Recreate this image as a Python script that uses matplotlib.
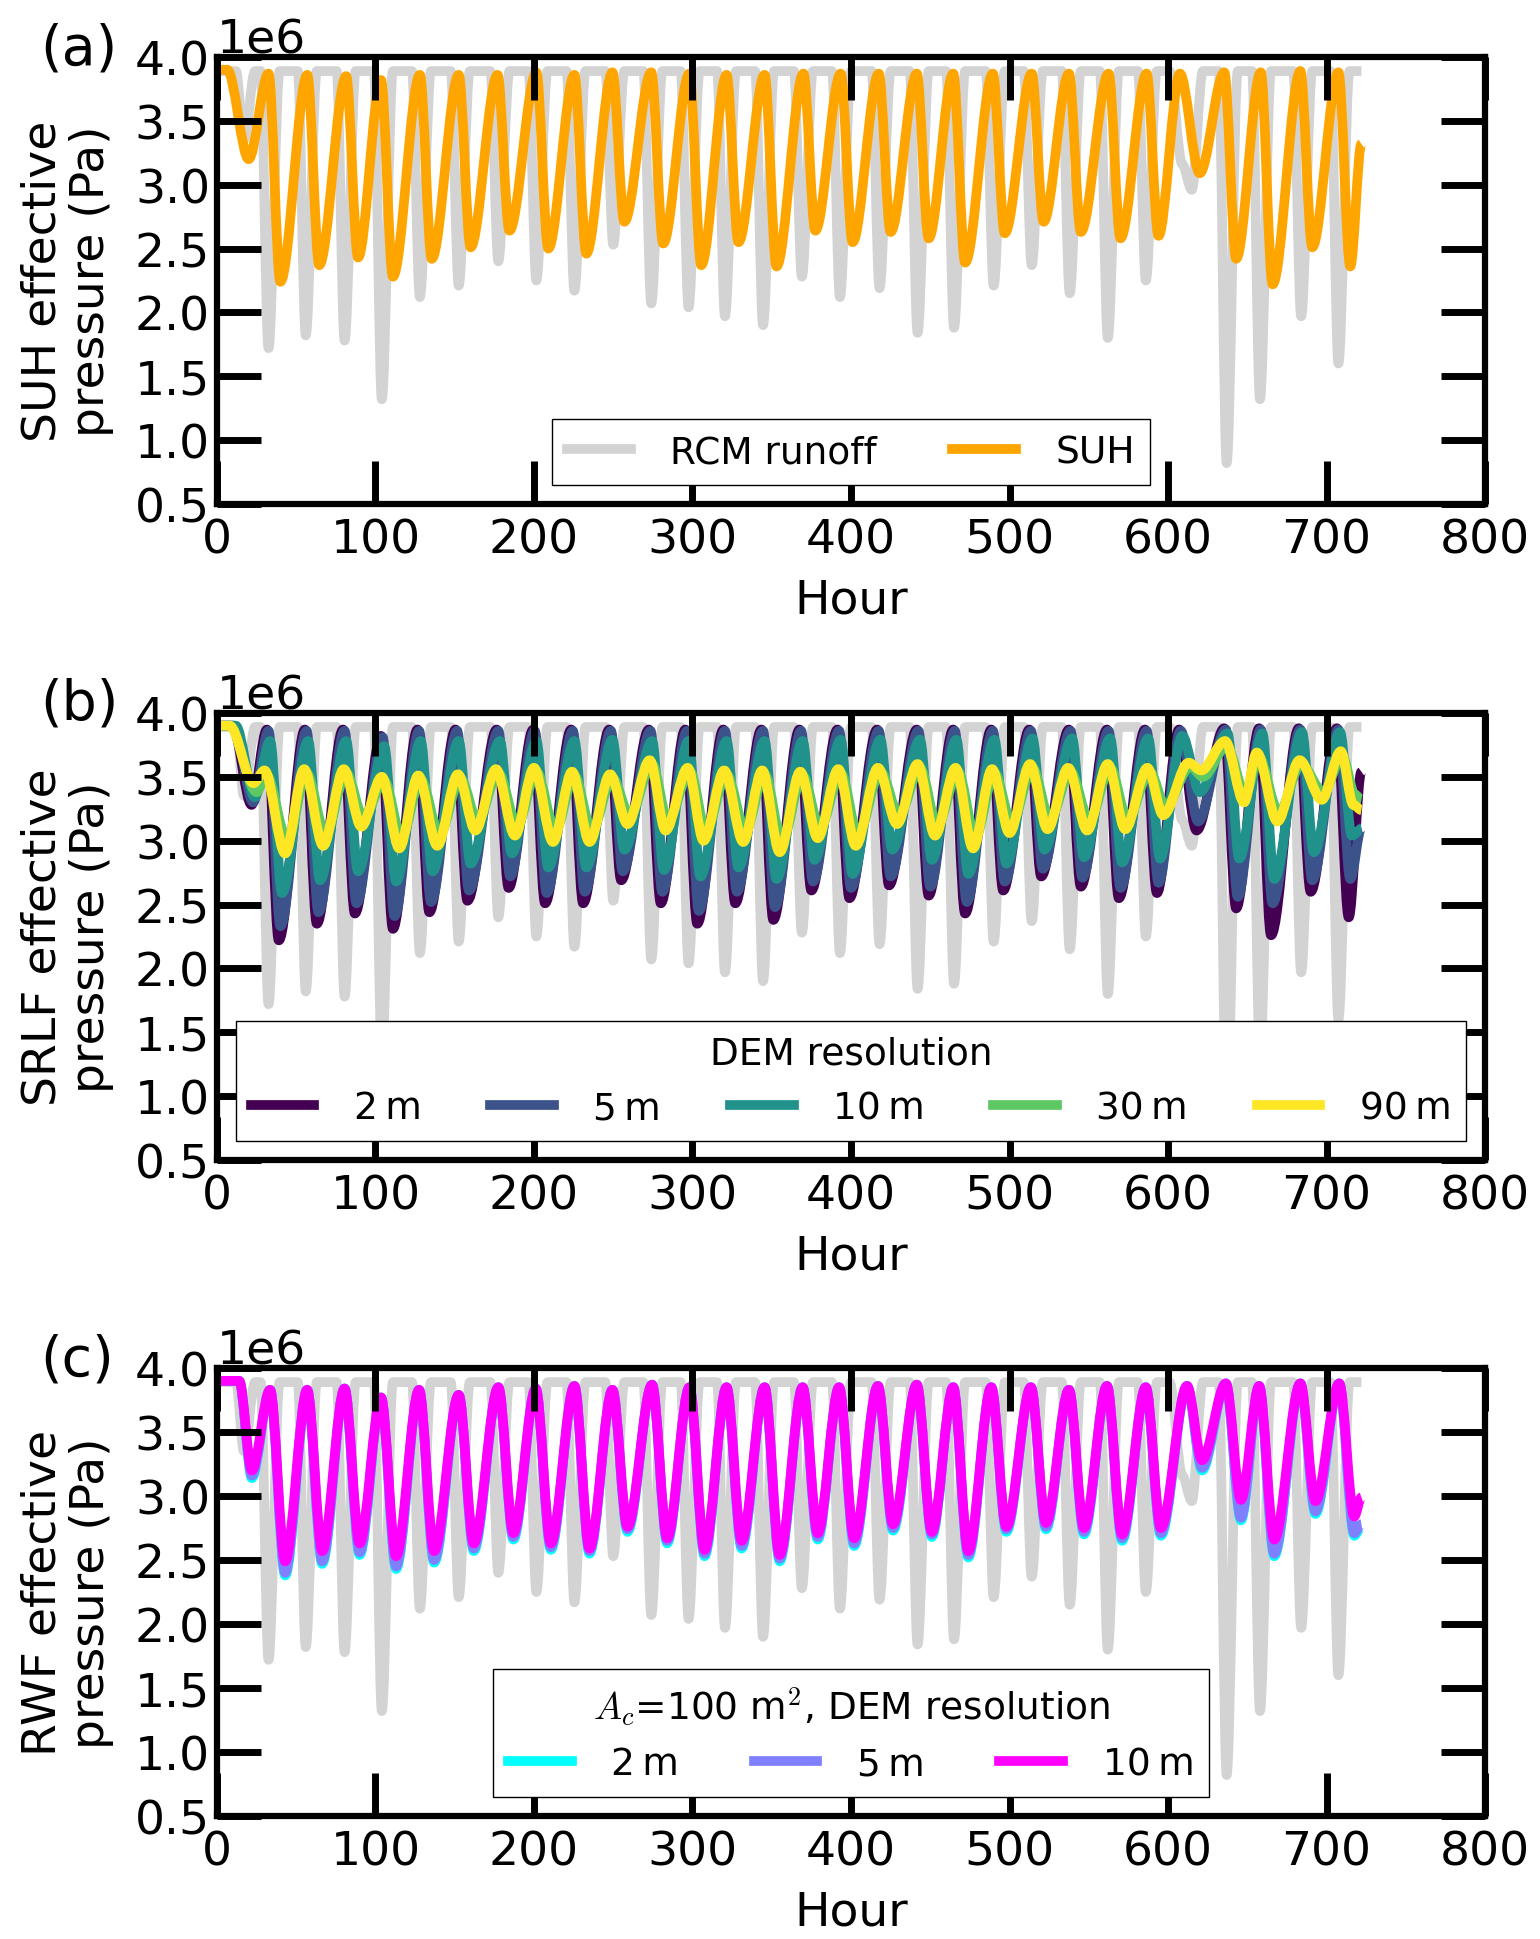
import numpy as np
import matplotlib
matplotlib.use("Agg")
import matplotlib.pyplot as plt
from matplotlib.path import Path
from matplotlib.patches import PathPatch

plt.rcParams['font.family'] = ['DejaVu Sans']
plt.rcParams['mathtext.fontset'] = 'cm'

# ---------------- data (units of 1e6 Pa) ----------------
# RCM runoff (grey): daily dips, flat top in between
rcm_top = 3.89
rcm_trough_h = [17, 32.5, 56, 80.5, 104, 128, 152.5, 177.5, 201.5, 225.5, 250, 274, 297.5, 320.5, 344.5,
                369, 393, 418, 442, 465, 490, 514, 538, 562, 586, 615, 637, 658, 684, 707.5]
rcm_trough_v = [3.35, 1.72, 1.82, 1.78, 1.32, 2.12, 2.21, 2.40, 2.25, 2.17, 2.53, 2.07, 2.04, 1.97, 1.90,
                2.28, 2.12, 2.19, 1.84, 1.88, 2.21, 2.37, 2.15, 1.80, 2.25, 2.96, 0.82, 1.32, 1.97, 1.60]
rcm_fall = [5] * 25 + [14] + [5] * 4
rcm_shoulder = (609, 3.16)
rcm_end = (722, 3.89)

# SUH (panel a)
suh_trough_h = [20, 40, 64.5, 89, 111, 135.5, 160, 184.5, 209, 233, 257, 281.5, 305.5, 329, 353,
                377.5, 401, 425, 449, 472, 497, 521.5, 545, 570, 594, 620, 643, 666, 691, 715]
suh_trough_v = [3.20, 2.24, 2.37, 2.43, 2.28, 2.42, 2.51, 2.64, 2.50, 2.46, 2.71, 2.54, 2.37, 2.55, 2.36,
                2.64, 2.55, 2.63, 2.58, 2.39, 2.62, 2.71, 2.63, 2.58, 2.60, 3.09, 2.42, 2.22, 2.51, 2.36]
suh_peak_v = [3.90, 3.87, 3.86, 3.85, 3.82, 3.86, 3.86, 3.86, 3.88, 3.86, 3.88, 3.88, 3.87, 3.86, 3.86,
              3.87, 3.87, 3.87, 3.87, 3.87, 3.87, 3.87, 3.87, 3.87, 3.87, 3.87, 3.88, 3.88, 3.89, 3.88]
suh_fall = [13.5] + [7.5] * 24 + [12.5] + [7.5] * 4
suh_end = (722, 3.32)

# SRLF (panel b), DEM resolution 2 m, 5 m, 10 m
srlf2_trough_h = [21.8, 39, 63, 87, 111, 134, 158, 184, 207, 231, 255, 280, 303, 327, 351,
                  375, 399, 424, 449, 472, 496, 520, 545, 569, 593, 618, 643, 665, 690, 714]
srlf2_trough_v = [3.28, 2.22, 2.35, 2.43, 2.31, 2.44, 2.53, 2.63, 2.51, 2.51, 2.69, 2.51, 2.35, 2.51, 2.38,
                  2.61, 2.55, 2.65, 2.57, 2.43, 2.61, 2.72, 2.64, 2.55, 2.59, 3.08, 2.47, 2.26, 2.60, 2.40]
srlf2_peak_v = [3.90, 3.87, 3.87, 3.87, 3.82, 3.87, 3.87, 3.87, 3.87, 3.87, 3.87, 3.87, 3.87, 3.87, 3.87,
                3.87, 3.87, 3.87, 3.87, 3.87, 3.87, 3.87, 3.87, 3.87, 3.87, 3.87, 3.88, 3.88, 3.88, 3.88]
srlf2_end = (722, 3.54)

srlf5_trough_h = [22.8, 40, 64, 88, 112, 135, 159, 185, 208, 232, 256, 281, 304, 328, 352,
                  376, 400, 425, 450, 473, 497, 521, 546, 570, 594, 619, 644, 666, 691, 715]
srlf5_trough_v = [3.30, 2.33, 2.44, 2.51, 2.41, 2.52, 2.61, 2.72, 2.59, 2.60, 2.76, 2.60, 2.45, 2.60, 2.48,
                  2.68, 2.63, 2.72, 2.64, 2.52, 2.68, 2.78, 2.71, 2.63, 2.67, 3.15, 2.56, 2.51, 2.69, 2.70]
srlf5_peak_v = [3.90, 3.86, 3.86, 3.86, 3.81, 3.86, 3.86, 3.86, 3.86, 3.86, 3.86, 3.86, 3.86, 3.86, 3.86,
                3.86, 3.86, 3.86, 3.86, 3.86, 3.86, 3.86, 3.86, 3.86, 3.86, 3.86, 3.87, 3.87, 3.87, 3.87]
srlf5_end = (722, 3.10)

srlf10_trough_h = [23.8, 41, 65, 89, 113, 136, 160, 186, 209, 233, 257, 282, 305, 329, 353,
                   377, 401, 426, 451, 474, 498, 522, 547, 571, 595, 620, 645, 667, 692, 716]
srlf10_trough_v = [3.34, 2.59, 2.69, 2.76, 2.68, 2.76, 2.82, 2.90, 2.79, 2.79, 2.93, 2.77, 2.72, 2.79, 2.70,
                   2.85, 2.74, 2.93, 2.85, 2.74, 2.82, 2.93, 2.87, 2.83, 2.86, 3.38, 2.86, 2.70, 2.91, 3.04]
srlf10_peak_v = [3.90, 3.78, 3.78, 3.78, 3.74, 3.78, 3.78, 3.78, 3.78, 3.78, 3.79, 3.78, 3.78, 3.78, 3.78,
                 3.78, 3.79, 3.79, 3.79, 3.79, 3.79, 3.80, 3.80, 3.80, 3.80, 3.82, 3.84, 3.84, 3.85, 3.85]
srlf10_end = (722, 3.09)
srlf_fall = [12] + [7.5] * 24 + [11] + [7.5] * 4

# SRLF 30 m and 90 m: peaks and troughs with their own hours
srlf90_h = [0, 8, 23, 30, 43, 55, 67, 80, 91, 104, 115, 127, 139, 152, 163, 176, 188, 200, 212, 224, 235,
            248, 259, 273, 283, 297, 307, 320, 332, 344, 355, 368, 379, 392, 403, 417, 429, 442, 453,
            466, 477, 489, 500, 513, 524, 537, 549, 562, 573, 587, 597, 613, 621, 636, 648, 656, 669,
            683, 697, 709, 717, 722]
srlf90_v = [3.90, 3.90, 3.45, 3.55, 2.90, 3.56, 2.96, 3.56, 3.11, 3.50, 2.94, 3.51, 2.96, 3.52, 3.08,
            3.56, 3.04, 3.57, 2.99, 3.54, 2.99, 3.52, 3.13, 3.63, 3.08, 3.57, 3.00, 3.55, 2.99, 3.55,
            2.91, 3.54, 3.02, 3.56, 2.96, 3.57, 3.13, 3.60, 3.04, 3.57, 2.94, 3.56, 3.06, 3.60, 3.09,
            3.57, 3.08, 3.60, 3.09, 3.57, 3.20, 3.61, 3.55, 3.78, 3.30, 3.69, 3.15, 3.63, 3.32, 3.70,
            3.28, 3.24]

srlf30_h = [0, 8, 25, 31, 44.5, 56.5, 68.5, 81.5, 92.5, 105.5, 116.5, 128.5, 140.5, 153.5, 164.5, 177.5,
            189.5, 201.5, 213.5, 225.5, 236.5, 249.5, 260.5, 274.5, 284.5, 298.5, 308.5, 321.5, 333.5,
            345.5, 356.5, 369.5, 380.5, 393.5, 404.5, 418.5, 430.5, 443.5, 454.5, 467.5, 478.5, 490.5,
            501.5, 514.5, 525.5, 538.5, 550.5, 563.5, 574.5, 588.5, 598.5, 614, 622, 637, 649, 657,
            670, 684, 698, 710, 718, 722]
srlf30_v = [3.90, 3.90, 3.38, 3.52, 3.00, 3.53, 3.05, 3.53, 3.18, 3.47, 3.03, 3.48, 3.05, 3.49, 3.16,
            3.53, 3.12, 3.54, 3.08, 3.51, 3.08, 3.49, 3.20, 3.60, 3.16, 3.54, 3.08, 3.52, 3.08, 3.52,
            3.00, 3.51, 3.10, 3.53, 3.05, 3.54, 3.20, 3.57, 3.12, 3.54, 3.03, 3.53, 3.14, 3.57, 3.17,
            3.54, 3.16, 3.57, 3.17, 3.54, 3.27, 3.58, 3.50, 3.74, 3.36, 3.66, 3.22, 3.60, 3.38, 3.66,
            3.36, 3.32]

# RWF (panel c), A_c = 100 m^2
rwf_trough_h = [22, 43, 66.4, 90, 113, 137, 162, 187, 210.6, 235, 259, 284, 307.6, 331, 355,
                379, 402, 426.5, 451, 474, 498, 523, 547, 571, 595.5, 621.5, 646, 667, 693, 717.5]
rwf10_trough_v = [3.20, 2.49, 2.57, 2.63, 2.53, 2.57, 2.63, 2.71, 2.63, 2.59, 2.76, 2.67, 2.58, 2.65, 2.54,
                  2.71, 2.67, 2.78, 2.72, 2.57, 2.76, 2.79, 2.75, 2.70, 2.75, 3.28, 2.97, 2.66, 2.96, 2.84]
rwf5_trough_v = [3.16, 2.40, 2.49, 2.56, 2.45, 2.50, 2.59, 2.68, 2.60, 2.57, 2.74, 2.65, 2.55, 2.61, 2.51,
                 2.68, 2.63, 2.75, 2.70, 2.54, 2.74, 2.76, 2.72, 2.67, 2.71, 3.22, 2.83, 2.55, 2.88, 2.71]
rwf2_trough_v = [3.14, 2.38, 2.47, 2.54, 2.43, 2.48, 2.57, 2.66, 2.58, 2.55, 2.72, 2.63, 2.53, 2.59, 2.49,
                 2.66, 2.61, 2.73, 2.68, 2.52, 2.72, 2.74, 2.70, 2.65, 2.69, 3.20, 2.81, 2.53, 2.86, 2.69]
rwf_peak_v = [3.90, 3.83, 3.83, 3.84, 3.77, 3.83, 3.79, 3.85, 3.84, 3.86, 3.83, 3.87, 3.85, 3.85, 3.85,
              3.85, 3.85, 3.86, 3.87, 3.85, 3.85, 3.85, 3.83, 3.86, 3.85, 3.86, 3.88, 3.86, 3.88, 3.88]
rwf_fall = [8] + [9.5] * 29
rwf10_end = (722, 2.99)
rwf5_end = (722, 2.78)
rwf2_end = (722, 2.76)

S = 1e6
LW = 7
FS = 34
LFS = 27


def dips(trough_h, trough_v, peak_v, fall, end, start_v=3.9):
    xs, ys = [0], [start_v]
    for h, v, p, f in zip(trough_h, trough_v, peak_v, fall):
        xs += [h - f, h]
        ys += [p, v]
    xs.append(end[0])
    ys.append(end[1])
    return xs, ys


def rcm_line():
    xs, ys = [0], [rcm_top]
    for h, v, f in zip(rcm_trough_h, rcm_trough_v, rcm_fall):
        xs.append(h - f)
        ys.append(rcm_top)
        if h - f < rcm_shoulder[0] < h:
            xs.append(rcm_shoulder[0])
            ys.append(rcm_shoulder[1])
        xs += [h, h + 7]
        ys += [v, rcm_top]
    xs.append(rcm_end[0])
    ys.append(rcm_end[1])
    return xs, ys


def smooth_line(ax, xs, ys, color, label=None):
    # smooth curve through the read peaks/troughs (flat tangent at each vertex)
    ys = [v * S for v in ys]
    verts = [(xs[0], ys[0])]
    codes = [Path.MOVETO]
    for i in range(1, len(xs)):
        dx = xs[i] - xs[i - 1]
        verts += [(xs[i - 1] + dx / 3, ys[i - 1]), (xs[i] - dx / 3, ys[i]), (xs[i], ys[i])]
        codes += [Path.CURVE4] * 3
    ax.add_patch(PathPatch(Path(verts, codes), fill=False, edgecolor=color, lw=LW,
                           joinstyle='round', capstyle='butt', zorder=1.2))
    if label is not None:
        ax.plot([], [], color=color, lw=LW, label=label)


vir = plt.cm.viridis(np.linspace(0, 1, 5))
leg_kw = dict(fontsize=LFS, handlelength=1.7, handletextpad=1.05, fancybox=False,
              edgecolor='black', framealpha=1)

fig = plt.figure(figsize=(15.4, 19.4), dpi=100)
boxes = [(0.7397, 0.9701), (0.4015, 0.6320), (0.0634, 0.2943)]
axes = [fig.add_axes([0.1409, b, 0.9643 - 0.1409, t - b]) for b, t in boxes]

rx, ry = rcm_line()

# (a) SUH
ax = axes[0]
smooth_line(ax, rx, ry, 'lightgray', 'RCM runoff')
x, y = dips(suh_trough_h, suh_trough_v, suh_peak_v, suh_fall, suh_end)
smooth_line(ax, x, y, 'orange', 'SUH')
ax.legend(loc='lower center', ncol=2, columnspacing=2.0, **leg_kw)

# (b) SRLF
ax = axes[1]
smooth_line(ax, rx, ry, 'lightgray')
for (th, tv, pv, end), lab, c in zip(
        [(srlf2_trough_h, srlf2_trough_v, srlf2_peak_v, srlf2_end),
         (srlf5_trough_h, srlf5_trough_v, srlf5_peak_v, srlf5_end),
         (srlf10_trough_h, srlf10_trough_v, srlf10_peak_v, srlf10_end)],
        ['2\u2009m', '5\u2009m', '10\u2009m'], vir[:3]):
    x, y = dips(th, tv, pv, srlf_fall, end)
    smooth_line(ax, x, y, c, lab)
smooth_line(ax, srlf30_h, srlf30_v, vir[3], '30\u2009m')
smooth_line(ax, srlf90_h, srlf90_v, vir[4], '90\u2009m')
ax.legend(loc='lower left', bbox_to_anchor=(0, 0, 1, 1), mode='expand', ncol=5,
          title='DEM resolution', title_fontsize=LFS, **leg_kw)

# (c) RWF
ax = axes[2]
smooth_line(ax, rx, ry, 'lightgray')
for tv, end, lab, c in zip([rwf2_trough_v, rwf5_trough_v, rwf10_trough_v],
                           [rwf2_end, rwf5_end, rwf10_end],
                           ['2\u2009m', '5\u2009m', '10\u2009m'],
                           ['cyan', '#8080ff', 'magenta']):
    x, y = dips(rwf_trough_h, tv, rwf_peak_v, rwf_fall, end)
    smooth_line(ax, x, y, c, lab)
ax.legend(loc='lower center', ncol=3, columnspacing=2.0, title=r'$A_c$=100 m$^2$, DEM resolution',
          title_fontsize=LFS, **leg_kw)

ylabels = ['SUH effective\npressure (Pa)', 'SRLF effective\npressure (Pa)', 'RWF effective\npressure (Pa)']
for ax, lab, tag in zip(axes, ylabels, ['(a)', '(b)', '(c)']):
    ax.set_axisbelow(False)
    ax.set_xlim(0, 800)
    ax.set_ylim(0.5e6, 4.0e6)
    ax.set_xticks(np.arange(0, 801, 100))
    ax.set_yticks(np.arange(0.5e6, 4.01e6, 0.5e6))
    ax.tick_params(axis='both', direction='in', top=True, right=True, width=5, labelsize=FS)
    ax.tick_params(axis='x', length=31, pad=10)
    ax.tick_params(axis='y', length=32, pad=5)
    for sp in ax.spines.values():
        sp.set_linewidth(4.5)
    ax.yaxis.get_offset_text().set_fontsize(FS)
    ax.set_xlabel('Hour', fontsize=FS)
    ax.xaxis.set_label_coords(0.5, -0.165)
    ax.set_ylabel(lab, fontsize=FS, linespacing=1.1)
    ax.yaxis.set_label_coords(-0.081, 0.5)
    ax.text(-0.1396, 1.02, tag, transform=ax.transAxes, fontsize=40, ha='left', va='center')

fig.savefig('out.png', dpi=100, facecolor='white')
